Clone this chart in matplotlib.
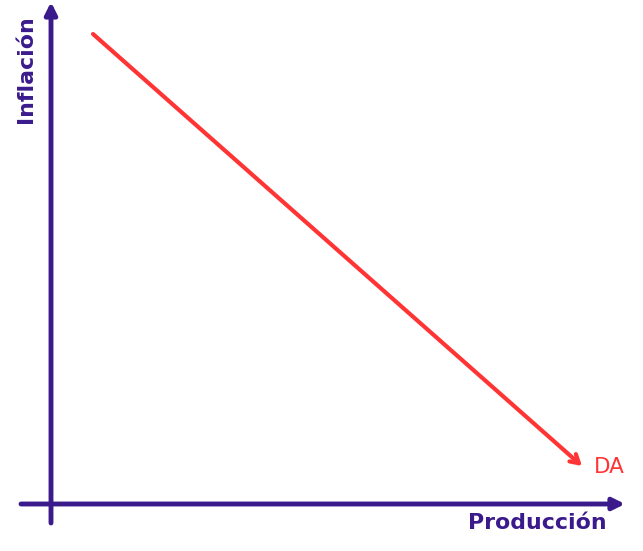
import matplotlib.pyplot as plt

# schematic aggregate demand curve (pixel-like units, y grows downwards)
da_x = [93, 582]
da_y = [34, 466]
x_axis = [21, 625]   # horizontal axis extent at y=504
y_axis = [523, 2]    # vertical axis extent at x=51
origin = (51, 504)

purple = '#3b1a8c'
red = '#ff3535'

fig = plt.figure(figsize=(6.43, 5.51), dpi=100)
ax = fig.add_axes([0, 0, 1, 1])
ax.set_xlim(0, 643)
ax.set_ylim(551, 0)
ax.axis('off')

arrow_axis = dict(arrowstyle='-|>,head_length=0.7,head_width=0.35', color=purple,
                  lw=3.5, shrinkA=0, shrinkB=0)
ax.annotate('', xy=(x_axis[1], origin[1]), xytext=(x_axis[0], origin[1]),
            arrowprops=arrow_axis)
ax.annotate('', xy=(origin[0], y_axis[1]), xytext=(origin[0], y_axis[0]),
            arrowprops=arrow_axis)

ax.annotate('', xy=(da_x[1], da_y[1]), xytext=(da_x[0], da_y[0]),
            arrowprops=dict(arrowstyle='->,head_length=0.6,head_width=0.35',
                            color=red, lw=3, shrinkA=0, shrinkB=0))

ax.text(594, 467, 'DA', color=red, fontsize=15.5, family='DejaVu Sans',
        ha='left', va='center')
ax.text(607, 523, 'Producción', color=purple, fontsize=15.8, family='DejaVu Sans',
        fontweight='bold', ha='right', va='center')
ax.text(26, 15, 'Inflación', color=purple, fontsize=15.8, family='DejaVu Sans',
        fontweight='bold', rotation=90, ha='center', va='top')

fig.savefig('out.png', dpi=100)
